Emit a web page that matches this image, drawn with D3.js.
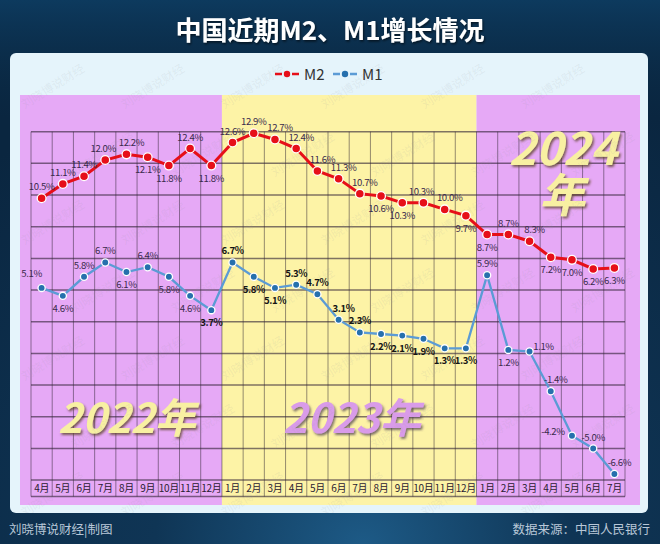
<!DOCTYPE html>
<html><head><meta charset="utf-8">
<script src="https://cdn.jsdelivr.net/npm/d3@7/dist/d3.min.js"></script>
<style>
html,body{margin:0;padding:0;background:#0b2740;}
svg{display:block;}
text{font-family:"Noto Sans CJK SC","Noto Sans",sans-serif;}
</style></head>
<body>
<svg id="c" width="660" height="544"></svg>
<script>
// ---------- data ----------
const months = ['4月','5月','6月','7月','8月','9月','10月','11月','12月',
  '1月','2月','3月','4月','5月','6月','7月','8月','9月','10月','11月','12月',
  '1月','2月','3月','4月','5月','6月','7月'];
const yearLabels = ['2022年','2023年','2024年'];
const yearMonthCounts = [9, 12, 7];
const m2 = [10.5,11.1,11.4,12.0,12.2,12.1,11.8,12.4,11.8,
  12.6,12.9,12.7,12.4,11.6,11.3,10.7,10.6,10.3,10.3,10.0,9.7,
  8.7,8.7,8.3,7.2,7.0,6.2,6.3];
const m1 = [5.1,4.6,5.8,6.7,6.1,6.4,5.8,4.6,3.7,
  6.7,5.8,5.1,5.3,4.7,3.1,2.3,2.2,2.1,1.9,1.3,1.3,
  5.9,1.2,1.1,-1.4,-4.2,-5.0,-6.6];
const seriesNames = ['M2','M1'];
// label placement (t=above, b=below, tr=above-right, tl=above-left, r=right, l=left, tL=above slightly left)
const m2Side = ['t','t','t','tL','tr','b','b','t','b',
  't','t','tr','tr','tr','tr','tr','b','b','tL','tr','b',
  'b','t','tr','b','b','b','b'];
const m1Side = ['tl','b','t','t','b','t','b','b','b',
  't','b','b','t','t','tr','t','b','b','b','b','b',
  't','b','r','tr','l','t','tr'];
const m1Bold = [8,9,10,11,12,13,14,15,16,17,18,19,20];

// ---------- drawing ----------
const svg = d3.select('#c');
const W = 660, H = 544;
const defs = svg.append('defs');
const bg = defs.append('radialGradient').attr('id','bg').attr('cx','0.55').attr('cy','1').attr('r','0.9');
bg.append('stop').attr('offset','0').attr('stop-color','#1d5a86');
bg.append('stop').attr('offset','0.35').attr('stop-color','#0f3555');
bg.append('stop').attr('offset','1').attr('stop-color','#0a2640');
const tg = defs.append('linearGradient').attr('id','tg').attr('x1',0).attr('y1',0).attr('x2',0).attr('y2',1);
tg.append('stop').attr('offset','0').attr('stop-color','#0d3a5e');
tg.append('stop').attr('offset','1').attr('stop-color','#0a2a45').attr('stop-opacity',0);
const f1 = defs.append('filter').attr('id','sh').attr('x','-10%').attr('y','-10%').attr('width','130%').attr('height','130%');
f1.append('feDropShadow').attr('dx',1.5).attr('dy',2).attr('stdDeviation',0.8).attr('flood-color','#5a4020').attr('flood-opacity',0.75);
const f2 = defs.append('filter').attr('id','sh2').attr('x','-10%').attr('y','-10%').attr('width','130%').attr('height','130%');
f2.append('feDropShadow').attr('dx',1.5).attr('dy',2).attr('stdDeviation',0.8).attr('flood-color','#4a3a50').attr('flood-opacity',0.7);
const f3 = defs.append('filter').attr('id','sh3');
f3.append('feDropShadow').attr('dx',1).attr('dy',1.5).attr('stdDeviation',1).attr('flood-color','#000').attr('flood-opacity',0.6);
defs.append('clipPath').attr('id','panelClip').append('rect')
  .attr('x',10).attr('y',53).attr('width',638).attr('height',460).attr('rx',6);

svg.append('rect').attr('width',W).attr('height',H).attr('fill','url(#bg)');
svg.append('rect').attr('width',W).attr('height',120).attr('fill','url(#tg)');

// title
svg.append('text').attr('x',330).attr('y',40).attr('text-anchor','middle')
  .attr('fill','#fff').attr('font-size',26).attr('font-weight',700)
  .attr('filter','url(#sh3)').text('中国近期M2、M1增长情况');

// panel
svg.append('rect').attr('x',10).attr('y',53).attr('width',638).attr('height',460)
  .attr('rx',6).attr('fill','#e5f4fb');

// scales
const x = d3.scaleBand().domain(d3.range(months.length)).range([31, 625]);
const bw = x.bandwidth();
const yM2 = d3.scalePow().exponent(2.5).domain([6.2, 12.9]).range([269, 133.3]);
const yM1 = d3.scaleLinear().domain([-8, 8]).range([496.2, 241.8]);
const cx = i => x(i) + bw / 2;

// year bands
const bandTop = 95, bandBot = 505;
const bandColors = ['#e6a9f6','#fdf3a6','#e6a9f6'];
let start = 0;
const bands = yearMonthCounts.map((n, k) => {
  const b = {k, s: start, e: start + n};
  start += n; return b;
});
const bx0 = d => d.k === 0 ? x(d.s) - 11 : x(d.s);
const bx1 = d => d.k === bands.length - 1 ? x(d.e - 1) + bw + 15 : x(d.e - 1) + bw;
svg.append('g').selectAll('rect').data(bands).join('rect')
  .attr('x', bx0).attr('width', d => bx1(d) - bx0(d))
  .attr('y', bandTop).attr('height', bandBot - bandTop)
  .attr('fill', d => bandColors[d.k]);

// grid
const gridTop = 131.7, rows = 11, rowH = 31.67, axisH = 16.5;
const gridBot = gridTop + rows * rowH;
const g = svg.append('g');
g.selectAll('line.v').data(d3.range(months.length + 1)).join('line')
  .attr('x1', i => 31 + i * bw).attr('x2', i => 31 + i * bw)
  .attr('y1', gridTop).attr('y2', gridBot + axisH)
  .attr('stroke', 'rgba(45,35,50,0.5)').attr('stroke-width', 1);
g.selectAll('line.h').data(d3.range(rows + 1)).join('line')
  .attr('x1', 31).attr('x2', 625)
  .attr('y1', k => gridTop + k * rowH).attr('y2', k => gridTop + k * rowH)
  .attr('stroke', 'rgba(50,35,55,0.62)').attr('stroke-width', 1.5);
g.append('line').attr('x1',31).attr('x2',625).attr('y1',gridBot + axisH).attr('y2',gridBot + axisH)
  .attr('stroke','rgba(50,35,55,0.62)').attr('stroke-width',1.5);

// x axis labels
svg.append('g').selectAll('text').data(months).join('text')
  .attr('x', (d, i) => cx(i)).attr('y', gridBot + 12)
  .attr('text-anchor','middle').attr('font-size',10).attr('fill','#2a2030')
  .attr('letter-spacing', -0.3).text(d => d);

// big year texts
const yearPos = [
  {x: 58, y: 433, size: 41, fill:'#f8f0a2', filt:'url(#sh)'},
  {x: 283, y: 433, size: 41, fill:'#d99be9', filt:'url(#sh2)'}
];
yearLabels.slice(0,2).forEach((t, k) => {
  const p = yearPos[k];
  svg.append('text').attr('x', p.x).attr('y', p.y).attr('font-size', p.size)
    .attr('font-weight', 700).attr('font-style','italic').attr('fill', p.fill)
    .attr('filter', p.filt).text(t);
});
const y24 = yearLabels[2];
svg.append('text').attr('x', 563).attr('y', 165).attr('text-anchor','middle')
  .attr('font-size', 46).attr('font-weight',700).attr('font-style','italic')
  .attr('fill','#f8f0a2').attr('filter','url(#sh)').text(y24.slice(0,4));
svg.append('text').attr('x', 562).attr('y', 212).attr('text-anchor','middle')
  .attr('font-size', 46).attr('font-weight',700).attr('font-style','italic')
  .attr('fill','#f8f0a2').attr('filter','url(#sh)').text(y24.slice(4));

// watermark (faint, under the data marks)
const wm = svg.append('g').attr('clip-path','url(#panelClip)').attr('pointer-events','none');
const wmPts = [];
for (let r = 0; r < 7; r++) {
  for (let c = 0; c < 7; c++) {
    const px = 55 + c * 100 + (r % 2) * 50, py = 90 + r * 68;
    if (px < 620 && py < 500) wmPts.push([px, py]);
  }
}
wm.selectAll('text').data(wmPts).join('text')
  .attr('transform', p => `translate(${p[0]},${p[1]}) rotate(-32)`)
  .attr('text-anchor','middle').attr('font-size',12)
  .attr('fill','rgba(150,150,165,0.13)').text('刘晓博说财经');

// lines
const red = '#e60f19', blueL = '#5b9bd5', blueP = '#2670ad';
const lineM2 = d3.line().x((d, i) => cx(i)).y(d => yM2(d));
const lineM1 = d3.line().x((d, i) => cx(i)).y(d => yM1(d));
svg.append('path').attr('d', lineM1(m1)).attr('fill','none').attr('stroke',blueL).attr('stroke-width',2.3);
svg.append('path').attr('d', lineM2(m2)).attr('fill','none').attr('stroke',red).attr('stroke-width',3);
svg.append('g').selectAll('circle').data(m1).join('circle')
  .attr('cx', (d, i) => cx(i)).attr('cy', d => yM1(d)).attr('r', 3.6)
  .attr('fill', blueP).attr('stroke','#fff').attr('stroke-width',1.3);
svg.append('g').selectAll('circle').data(m2).join('circle')
  .attr('cx', (d, i) => cx(i)).attr('cy', d => yM2(d)).attr('r', 4.4)
  .attr('fill', red).attr('stroke','#fff').attr('stroke-width',1.3);

// value labels
const off = {
  t: [0, -8], tL: [-2, -8], b: [0, 16], tr: [5, -8], tl: [-10, -11], r: [14, -1.5], l: [-19, -0.5]
};
function labels(vals, yS, side, boldIdx) {
  svg.append('g').selectAll('text').data(vals).join('text')
    .attr('x', (d, i) => cx(i) + off[side[i]][0])
    .attr('y', (d, i) => yS(d) + off[side[i]][1])
    .attr('text-anchor','middle').attr('font-size',9.6).attr('letter-spacing',-0.4)
    .attr('font-weight', (d, i) => boldIdx.includes(i) ? 700 : 400)
    .attr('fill', (d, i) => boldIdx.includes(i) ? '#141414' : '#3a2a4c')
    .text(d => d.toFixed(1) + '%');
}
labels(m2, yM2, m2Side, []);
labels(m1, yM1, m1Side, m1Bold);

// legend
const lg = svg.append('g');
const legendItems = [
  {name: seriesNames[0], x0: 275, line: red, pt: red},
  {name: seriesNames[1], x0: 333, line: blueL, pt: blueP}
];
legendItems.forEach(it => {
  lg.append('line').attr('x1', it.x0).attr('x2', it.x0 + 7).attr('y1',74).attr('y2',74)
    .attr('stroke', it.line).attr('stroke-width', 2.5);
  lg.append('line').attr('x1', it.x0 + 17).attr('x2', it.x0 + 24).attr('y1',74).attr('y2',74)
    .attr('stroke', it.line).attr('stroke-width', 2.5);
  lg.append('circle').attr('cx', it.x0 + 12).attr('cy', 74).attr('r', 3.2).attr('fill', it.pt);
  lg.append('text').attr('x', it.x0 + 29).attr('y', 79.5).attr('font-size', 15)
    .attr('fill','#333').attr('font-family','"Noto Sans",sans-serif').text(it.name);
});

// footer
svg.append('text').attr('x', 9).attr('y', 534).attr('font-size', 12.5)
  .attr('fill','#b9c8d8').text('刘晓博说财经|制图');
svg.append('text').attr('x', 650).attr('y', 534).attr('text-anchor','end').attr('font-size', 12.5)
  .attr('fill','#b9c8d8').text('数据来源：中国人民银行');
</script>
</body></html>
